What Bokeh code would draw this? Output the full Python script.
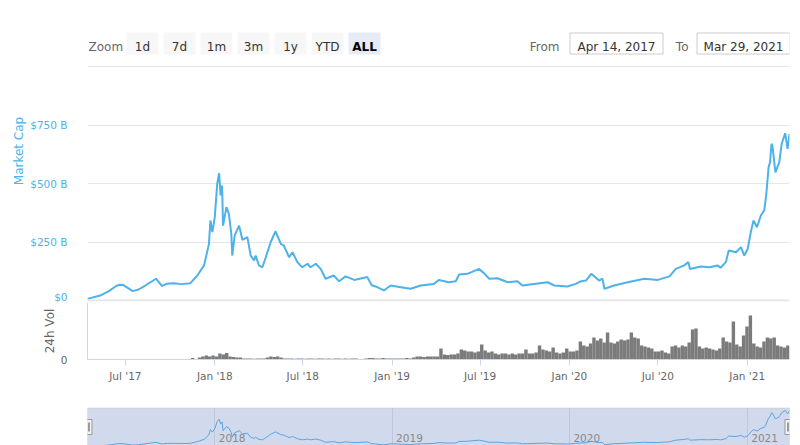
import pandas as pd
from datetime import timedelta
from bokeh.plotting import figure
from bokeh.layouts import column
from bokeh.models import Range1d, FixedTicker, MonthsTicker, DatetimeTickFormatter, Span, BoxAnnotation
from bokeh.core.properties import value
from bokeh.embed import file_html
from bokeh.resources import INLINE

# ---------------- data ----------------
range_start = "2017-04-14"
range_end = "2021-03-29"

zoom_buttons = ["1d", "7d", "1m", "3m", "1y", "YTD", "ALL"]
selected_button = "ALL"

mc_dates = [
    "2017-04-14", "2017-05-10", "2017-05-28", "2017-06-12", "2017-06-18", "2017-06-27",
    "2017-07-16", "2017-07-28", "2017-08-11", "2017-09-02", "2017-09-14", "2017-09-25",
    "2017-10-08", "2017-10-25", "2017-11-12", "2017-11-26", "2017-12-10", "2017-12-20",
    "2017-12-23", "2017-12-27", "2018-01-01", "2018-01-06", "2018-01-10", "2018-01-13",
    "2018-01-16", "2018-01-18", "2018-01-25", "2018-01-30", "2018-02-04", "2018-02-06",
    "2018-02-11", "2018-02-20", "2018-02-27", "2018-03-09", "2018-03-16", "2018-03-23",
    "2018-03-26", "2018-04-02", "2018-04-09", "2018-04-16", "2018-04-26", "2018-05-06",
    "2018-05-17", "2018-05-23", "2018-06-03", "2018-06-10", "2018-06-20", "2018-06-30",
    "2018-07-11", "2018-07-17", "2018-07-28", "2018-08-07", "2018-08-17", "2018-09-03",
    "2018-09-14", "2018-09-27", "2018-10-15", "2018-11-11", "2018-11-20", "2018-11-28",
    "2018-12-15", "2018-12-29", "2019-01-19", "2019-02-08", "2019-03-01", "2019-03-28",
    "2019-04-07", "2019-04-28", "2019-05-12", "2019-05-19", "2019-06-05", "2019-06-29",
    "2019-07-09", "2019-07-20", "2019-08-06", "2019-08-27", "2019-09-16", "2019-09-26",
    "2019-10-20", "2019-11-17", "2019-12-01", "2019-12-28", "2020-01-14", "2020-01-23",
    "2020-02-04", "2020-02-15", "2020-03-02", "2020-03-09", "2020-03-13", "2020-04-02",
    "2020-04-30", "2020-06-03", "2020-07-01", "2020-07-25", "2020-08-07", "2020-08-24",
    "2020-09-02", "2020-09-05", "2020-09-28", "2020-10-15", "2020-11-01", "2020-11-07",
    "2020-11-18", "2020-11-24", "2020-12-09", "2020-12-19", "2020-12-26", "2021-01-02",
    "2021-01-09", "2021-01-14", "2021-01-21", "2021-01-29", "2021-02-05", "2021-02-09",
    "2021-02-14", "2021-02-17", "2021-02-20", "2021-02-22", "2021-02-28", "2021-03-08",
    "2021-03-13", "2021-03-20", "2021-03-25", "2021-03-29",
]
# market cap, billions USD
mc_values = [
    7, 21, 40, 62, 67, 66,
    40, 47, 64, 93, 62, 72,
    74, 70, 74, 107, 150, 242,
    342, 292, 356, 499, 544, 449,
    491, 320, 399, 370, 285, 192,
    278, 320, 259, 271, 192, 171,
    192, 150, 142, 185, 249, 296,
    242, 235, 185, 206, 164, 142,
    157, 142, 157, 135, 93, 107,
    82, 103, 88, 100, 65, 60,
    43, 64, 57, 50, 64, 71,
    88, 78, 82, 111, 114, 135,
    117, 93, 95, 78, 82, 64,
    71, 78, 64, 60, 71, 81,
    85, 114, 85, 93, 50, 64,
    78, 93, 88, 103, 135, 150,
    164, 135, 145, 142, 150, 140,
    164, 214, 206, 228, 192, 221,
    299, 342, 313, 363, 385, 449,
    570, 591, 670, 660, 548, 591,
    670, 715, 648, 712,
]

# weekly 24h volume, billions USD (first week starting 2017-11-13)
vol_first_week = "2017-11-13"
vol_values = [
    8, 3, 10, 15, 20, 15, 20, 15, 30, 25, 33, 15, 13, 10, 10, 5, 5, 5, 4, 5,
    5, 5, 10, 15, 13, 15, 10, 5, 5, 5, 4, 5, 5, 4, 5, 5, 4, 5, 5, 4,
    5, 4, 5, 5, 4, 5, 4, 5, 5, 3, 2, 5, 8, 8, 5, 5, 8, 5, 5, 5,
    5, 5, 5, 8, 5, 10, 15, 15, 13, 15, 15, 15, 15, 55, 25, 23, 25, 25, 30, 50,
    45, 40, 40, 35, 40, 75, 45, 35, 40, 30, 25, 30, 30, 25, 30, 25, 30, 30, 50, 30,
    30, 35, 70, 50, 45, 40, 60, 35, 30, 35, 55, 40, 40, 45, 90, 70, 65, 80, 110, 95,
    105, 85, 135, 85, 80, 90, 100, 95, 100, 135, 110, 105, 70, 65, 60, 55, 40, 40, 45, 35,
    30, 65, 70, 60, 70, 65, 85, 150, 155, 65, 55, 60, 55, 50, 45, 55, 110, 90, 85, 190,
    75, 65, 120, 165, 220, 80, 65, 60, 90, 110, 105, 110, 70, 65, 60, 70, 60,
]

y_ticks = [0, 250, 500, 750, 1000]
y_tick_labels = ["$0", "$250 B", "$500 B", "$750 B", ""]
vol_ticks = [0]
vol_tick_labels = ["0"]
nav_year_labels = ["2018", "2019", "2020", "2021"]

# ---------------- styling ----------------
FONT = "DejaVu Sans"
BLUE = "#4db2ea"
GRID = "#e6e6e6"
AXIS = "#ccd6eb"
LABEL = "#666666"

start = pd.Timestamp(range_start)
end = pd.Timestamp(range_end)
mc_x = pd.to_datetime(mc_dates)
vol_x = pd.date_range(vol_first_week, periods=len(vol_values), freq="7D") + pd.Timedelta(days=3.5)
nav_years_x = [pd.Timestamp(f"{y}-01-01") for y in nav_year_labels]

W = 800
LB, RB = 87, 11
frame_w = W - LB - RB
px_per_day = frame_w / (end - start).days
common = dict(output_backend="svg", toolbar_location=None)

# page pixel geometry of the main panel (frame from page y 0 to 301)
TOP, BOT = 0, 301
Y0, Y1000 = 300, 66
b_per_px = 1000 / (Y0 - Y1000)

# ---------------- main market cap panel (with range selector on top) ----------------
main = figure(width=W, height=BOT - TOP + 1, x_axis_type="datetime", x_axis_location=None,
              x_range=Range1d(start, end),
              y_range=Range1d(-(BOT - Y0) * b_per_px, 1000 + (Y1000 - TOP) * b_per_px),
              min_border_left=LB, min_border_right=RB, min_border_top=0, min_border_bottom=1,
              **common)
main.extra_x_ranges = {"px": Range1d(LB, W - RB)}
main.extra_y_ranges = {"px": Range1d(BOT, TOP)}
main.outline_line_color = None
main.xgrid.visible = False
main.ygrid.grid_line_color = GRID
main.yaxis.ticker = FixedTicker(ticks=y_ticks)
main.yaxis.major_label_overrides = dict(zip(y_ticks, y_tick_labels))
main.yaxis.axis_line_color = None
main.yaxis.major_tick_line_color = None
main.yaxis.minor_tick_line_color = None
main.yaxis.major_label_standoff = 14
main.yaxis.major_label_text_color = BLUE
main.yaxis.major_label_text_font = FONT
main.yaxis.major_label_text_font_size = "10.5px"
main.yaxis.axis_label = "Market Cap"
main.yaxis.axis_label_text_color = BLUE
main.yaxis.axis_label_text_font = FONT
main.yaxis.axis_label_text_font_size = "12px"
main.yaxis.axis_label_text_font_style = "normal"
main.yaxis.axis_label_standoff = 1
main.add_layout(Span(location=0, dimension="width", line_color=GRID, line_width=2))
main.line(x=mc_x, y=mc_values, line_color=BLUE, line_width=2)

# range selector (drawn in page pixels)
tb = dict(x_range_name="px", y_range_name="px")
btn_left = [126 + 37 * i for i in range(len(zoom_buttons))]
btn_fill = ["#e6ebf5" if b == selected_button else "#f7f7f7" for b in zoom_buttons]
main.quad(left=btn_left, right=[l + 32 for l in btn_left], top=[32] * len(btn_left),
          bottom=[54] * len(btn_left), fill_color=btn_fill, line_color=None, **tb)
norm = [i for i, b in enumerate(zoom_buttons) if b != selected_button]
sel = [i for i, b in enumerate(zoom_buttons) if b == selected_button]
txt = dict(text_baseline="alphabetic", text_font=value(FONT), text_font_size="12px")
main.text(x=[btn_left[i] + 16 for i in norm], y=[46.5] * len(norm), text=[zoom_buttons[i] for i in norm],
          text_align="center", text_color="#333333", **txt, **tb)
main.text(x=[btn_left[i] + 16 for i in sel], y=[46.5] * len(sel), text=[zoom_buttons[i] for i in sel],
          text_align="center", text_color="#000000", text_font_style="bold", **txt, **tb)
main.text(x=[88], y=[46.5], text=["Zoom"], text_align="left", text_color=LABEL, **txt, **tb)
main.text(x=[559, 688], y=[46.5, 46.5], text=["From", "To"], text_align="right",
          text_color=LABEL, **txt, **tb)
main.quad(left=[569.5, 696.5], right=[662.5, 789.5], top=[32.5, 32.5], bottom=[53.5, 53.5],
          fill_color="white", line_color="#cccccc", line_width=1, **tb)
main.text(x=[616, 743], y=[46.5, 46.5],
          text=[start.strftime("%b %d, %Y"), end.strftime("%b %d, %Y")],
          text_align="center", text_color="#333333", **txt, **tb)

# ---------------- volume panel ----------------
vol = figure(width=W, height=98, x_axis_type="datetime",
             x_range=main.x_range, y_range=Range1d(0, 285),
             min_border_left=LB, min_border_right=RB, min_border_top=0, min_border_bottom=41,
             **common)
vol.outline_line_color = None
vol.xgrid.visible = False
vol.ygrid.visible = False
vol.vbar(x=vol_x, top=vol_values, width=7 * 86400000, fill_color="#7b7b7b", line_color=None)
vol.xaxis.ticker = MonthsTicker(months=[0, 6])
vol.xaxis.formatter = DatetimeTickFormatter(days="%b '%y", months="%b '%y", years="%b '%y")
vol.xaxis.axis_line_color = AXIS
vol.xaxis.major_tick_line_color = AXIS
vol.xaxis.major_tick_in = 0
vol.xaxis.major_tick_out = 6
vol.xaxis.minor_tick_line_color = None
vol.xaxis.major_label_standoff = 4
vol.xaxis.major_label_text_color = LABEL
vol.xaxis.major_label_text_font = FONT
vol.xaxis.major_label_text_font_size = "10.5px"
vol.yaxis.ticker = FixedTicker(ticks=vol_ticks)
vol.yaxis.major_label_overrides = dict(zip(vol_ticks, vol_tick_labels))
vol.yaxis.axis_line_color = AXIS
vol.yaxis.major_tick_line_color = None
vol.yaxis.minor_tick_line_color = None
vol.yaxis.major_label_standoff = 14
vol.yaxis.major_label_text_color = LABEL
vol.yaxis.major_label_text_font = FONT
vol.yaxis.major_label_text_font_size = "10.5px"
vol.yaxis.axis_label = "24h Vol"
vol.yaxis.axis_label_text_color = LABEL
vol.yaxis.axis_label_text_font = FONT
vol.yaxis.axis_label_text_font_size = "12px"
vol.yaxis.axis_label_text_font_style = "normal"
vol.yaxis.axis_label_standoff = 1

# ---------------- navigator ----------------
nav = figure(width=W, height=45, x_axis_type="datetime",
             x_range=Range1d(start, end), y_range=Range1d(31, 772),
             x_axis_location=None, y_axis_location=None,
             min_border_left=LB, min_border_right=RB, min_border_top=7, min_border_bottom=0,
             **common)
nav.extra_y_ranges = {"px": Range1d(445, 407)}
nav.outline_line_color = None
nav.ygrid.visible = False
nav.xgrid.ticker = FixedTicker(ticks=[t.value // 10**6 for t in nav_years_x])
nav.xgrid.grid_line_color = GRID
nav.quad(left=[start], right=[end], top=[407.5], bottom=[450], y_range_name="px",
         fill_color="#6685c2", fill_alpha=0.3, line_color="#cccccc", line_width=1)
nav.line(x=mc_x, y=mc_values, line_color="#5aa5e0", line_width=1)
nav.text(x=nav_years_x, y=[437] * len(nav_years_x), text=nav_year_labels, y_range_name="px",
         x_offset=4, text_align="left", text_baseline="alphabetic", text_font=value(FONT),
         text_font_size="10.5px", text_color="#888888")

hw = timedelta(days=4.5 / px_per_day)
gd = timedelta(days=1.5 / px_per_day)
g1 = timedelta(days=0.5 / px_per_day)
for edge in (start, end):
    nav.add_layout(BoxAnnotation(left=edge - hw, right=edge + hw, bottom=434, top=419,
                                 y_range_name="px", fill_color="#f2f2f2", fill_alpha=1,
                                 line_color="#999999", line_alpha=1, line_width=1))
    for d in (-gd, gd):
        nav.add_layout(BoxAnnotation(left=edge + d - g1, right=edge + d + g1, bottom=431, top=422,
                                     y_range_name="px", fill_color="#444444", fill_alpha=1,
                                     line_color=None))

p = column(main, vol, nav)
open("out.html", "w").write(file_html(p, INLINE))
